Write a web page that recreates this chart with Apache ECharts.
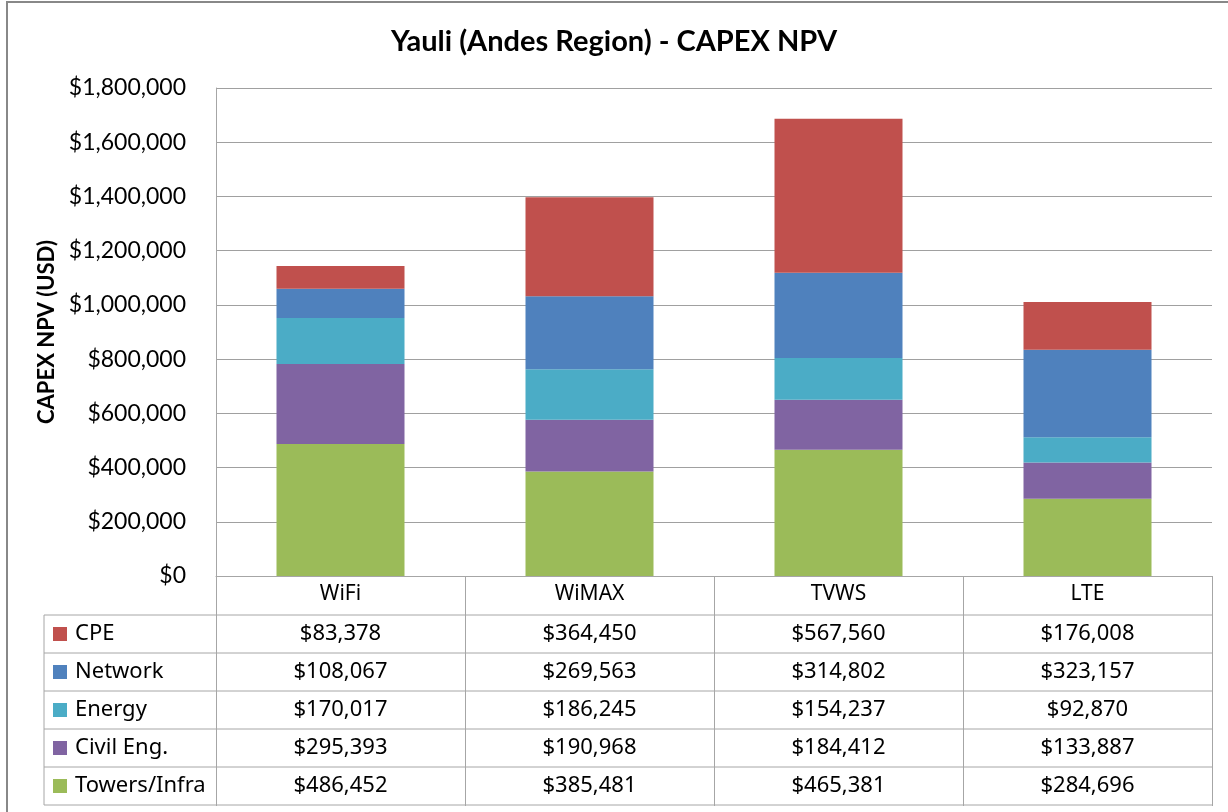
<!DOCTYPE html>
<html>
<head>
<meta charset="utf-8">
<script src="https://cdn.jsdelivr.net/npm/echarts@6/dist/echarts.min.js"></script>
<style>
  html, body { margin: 0; padding: 0; background: #fff; }
  #main { width: 1228px; height: 812px; }
</style>
</head>
<body>
<div id="main"></div>
<script>
var categories = ['WiFi', 'WiMAX', 'TVWS', 'LTE'];
var towers = [486452, 385481, 465381, 284696];
var civil = [295393, 190968, 184412, 133887];
var energy = [170017, 186245, 154237, 92870];
var network = [108067, 269563, 314802, 323157];
var cpe = [83378, 364450, 567560, 176008];
var yTicks = [0, 200000, 400000, 600000, 800000, 1000000, 1200000, 1400000, 1600000, 1800000];

// stack order bottom -> top
var seriesList = [
    { name: 'Towers/Infra', data: towers, color: '#9BBB59' },
    { name: 'Civil Eng.', data: civil, color: '#8064A2' },
    { name: 'Energy', data: energy, color: '#4BACC6' },
    { name: 'Network', data: network, color: '#4F81BD' },
    { name: 'CPE', data: cpe, color: '#C0504D' }
];

var gridLeft = 216, gridTop = 88, gridW = 996, gridH = 488;
var tableLeft = 44, rowTop = 615, rowH = 38;
var lineColor = '#A6A6A6';
var axisFont = 'Lato, "Open Sans", sans-serif';
var tableFont = '"Noto Sans", "DejaVu Sans", sans-serif';

function money(v) {
    return '$' + v.toString().replace(/\B(?=(\d{3})+(?!\d))/g, ',');
}

var myChart = echarts.init(document.getElementById('main'));

var option = {
    animation: false,
    backgroundColor: '#fff',
    title: {
        text: 'Yauli (Andes Region) - CAPEX NPV',
        left: 'center',
        top: 22,
        textStyle: { fontFamily: axisFont, fontSize: 29, fontWeight: 'bold', color: '#000' }
    },
    grid: { left: gridLeft, top: gridTop, width: gridW, height: gridH },
    xAxis: {
        type: 'category',
        data: categories,
        axisLine: { lineStyle: { color: lineColor, width: 1 } },
        axisTick: { show: true, interval: 0, length: 230, lineStyle: { color: lineColor } },
        axisLabel: { fontFamily: tableFont, fontSize: 21, color: '#000', margin: 8 }
    },
    yAxis: {
        type: 'value',
        min: 0,
        max: yTicks[yTicks.length - 1],
        interval: yTicks[1] - yTicks[0],
        name: 'CAPEX NPV (USD)',
        nameLocation: 'middle',
        nameRotate: 90,
        nameGap: 157,
        nameTextStyle: { fontFamily: axisFont, fontSize: 22, fontWeight: 'bold', color: '#000' },
        axisLine: { show: true, lineStyle: { color: lineColor } },
        axisTick: { show: false },
        splitLine: { lineStyle: { color: '#A0A0A0', width: 1 } },
        axisLabel: {
            fontFamily: axisFont, fontSize: 23, color: '#000', margin: 30,
            formatter: function (v) { return money(v); }
        }
    },
    series: seriesList.map(function (s) {
        return {
            name: s.name,
            type: 'bar',
            stack: 'total',
            data: s.data,
            barWidth: 128,
            itemStyle: { color: s.color }
        };
    })
};

myChart.setOption(option);

// data table under the plot
var graphics = [];
var rowOrder = seriesList.slice().reverse();
graphics.push({
    type: 'rect', shape: { x: 7, y: 2, width: 1240, height: 830 },
    style: { fill: null, stroke: '#888', lineWidth: 2 }, silent: true
});
for (var r = 0; r <= rowOrder.length; r++) {
    var y = rowTop + r * rowH;
    graphics.push({
        type: 'line', shape: { x1: tableLeft, y1: y, x2: gridLeft + gridW, y2: y },
        style: { stroke: lineColor, lineWidth: 1 }, silent: true
    });
}
graphics.push({
    type: 'line', shape: { x1: tableLeft, y1: rowTop, x2: tableLeft, y2: rowTop + rowOrder.length * rowH },
    style: { stroke: lineColor, lineWidth: 1 }, silent: true
});
rowOrder.forEach(function (s, r) {
    var cy = rowTop + r * rowH + rowH / 2;
    graphics.push({
        type: 'rect', shape: { x: 53, y: cy - 7, width: 14, height: 14 },
        style: { fill: s.color }, silent: true
    });
    graphics.push({
        type: 'text', x: 75, y: cy,
        style: { text: s.name, fontFamily: tableFont, fontSize: 22, fill: '#000', align: 'left', verticalAlign: 'middle' },
        silent: true
    });
    s.data.forEach(function (v, c) {
        var cx = myChart.convertToPixel({ xAxisIndex: 0 }, categories[c]);
        graphics.push({
            type: 'text', x: cx, y: cy,
            style: { text: money(v), fontFamily: tableFont, fontSize: 22, fill: '#000', align: 'center', verticalAlign: 'middle' },
            silent: true
        });
    });
});
myChart.setOption({ graphic: graphics });
</script>
</body>
</html>
